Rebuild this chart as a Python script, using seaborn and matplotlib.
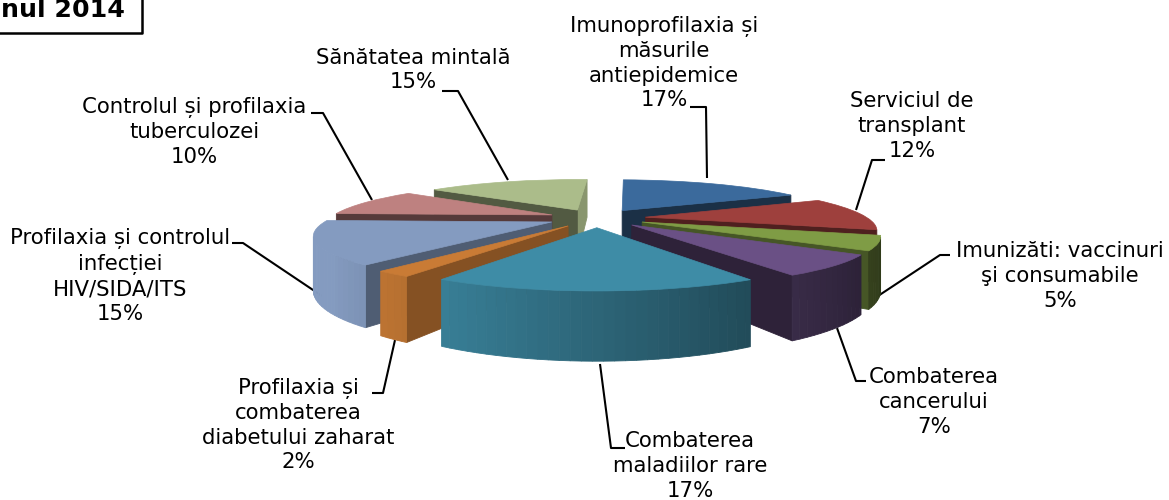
"""
Placinta 3D explodata: ponderea programelor nationale, anul 2014.
"""
import numpy as np
import matplotlib
matplotlib.use("Agg")
import matplotlib.pyplot as plt
from matplotlib.transforms import Transform
from matplotlib.colors import to_rgb
import seaborn as sns

sns.set_theme(style="white")
plt.rcParams['font.family'] = ['DejaVu Sans']

categorii = ["Imunoprofilaxia și\nmăsurile\nantiepidemice", "Serviciul de\ntransplant",
             "Imunizăti: vaccinuri\nşi consumabile", "Combaterea\ncancerului",
             "Combaterea\nmaladiilor rare", "Profilaxia și\ncombaterea\ndiabetului zaharat",
             "Profilaxia și controlul\ninfecției\nHIV/SIDA/ITS", "Controlul și profilaxia\ntuberculozei",
             "Sănătatea mintală"]
valori = [17, 12, 5, 7, 17, 2, 15, 10, 15]
titlu = "nul 2014"

culori = sns.color_palette(["#3B6A9C", "#9E403D", "#7F9C45", "#6A5085", "#3E8CA6",
                            "#C97B35", "#849BC0", "#BE8180", "#ABBC8A"])
umbra_taiere = [0.45, 0.5, 0.55, 0.43, 0.5, 0.66, 0.6, 0.45, 0.48]

# pozitia etichetelor (centru) si liniile de legatura, in pixeli
poz_text = [(664, 63), (912, 126), (1060, 276), (934, 402), (690, 466),
            (298, 425), (120, 276), (194, 132), (413, 70)]
legaturi = [[(707, 178), (706, 107), (690, 107)],
            [(856, 210), (872, 160), (885, 160)],
            [(878, 296), (940, 255), (950, 255)],
            [(837, 328), (856, 381), (866, 381)],
            [(600, 364), (611, 448), (625, 448)],
            [(395, 340), (383, 393), (372, 393)],
            [(322, 296), (243, 243), (232, 243)],
            [(372, 200), (323, 113), (311, 113)],
            [(508, 180), (458, 91), (442, 91)]]

CX, CY, A, B, K, H = 597, 218, 222, 41.7, 0.248, 49
EXPLODE = 0.22


def proiectie(x, y, z=0.0):
    """Coordonate plate ale placintei -> pixeli, cu perspectiva."""
    w = 1 + K * y
    return CX + A * x / w, CY - B * y / w + H * z / w


class Perspectiva(Transform):
    input_dims = output_dims = 2
    is_affine = False

    def transform_non_affine(self, values):
        values = np.asarray(values)
        px, py = proiectie(values[:, 0], values[:, 1])
        return np.column_stack([px, py])


def fata(ax, pts, culoare, zo):
    """Deseneaza o fata doar daca e orientata spre privitor."""
    xs, ys = zip(*pts)
    arie = 0.5 * np.sum(np.array(xs) * np.roll(ys, -1) - np.roll(xs, -1) * np.array(ys))
    if arie < 0:
        return
    ax.fill(xs, ys, color=culoare, lw=0.6, zorder=zo, clip_on=False)


def inchis(c, f):
    return tuple(np.clip(np.array(to_rgb(c)) * f, 0, 1))


fig, ax = plt.subplots(figsize=(11.69, 5), dpi=100)
fig.subplots_adjust(0, 0, 1, 1)

wedges, _ = ax.pie(valori, explode=[EXPLODE] * len(valori), startangle=88, counterclock=False,
                   colors=culori, radius=1, wedgeprops=dict(lw=0.5))
ax.set_aspect("auto")
ax.set_xlim(0, 1169)
ax.set_ylim(500, 0)
ax.axis("off")

# ordinea pictorului: feliile din spate primele
bisectoare = [np.sin(np.radians((w.theta1 + w.theta2) / 2)) for w in wedges]
ordine = np.argsort(bisectoare)[::-1]

for rang, i in enumerate(ordine):
    w = wedges[i]
    c = culori[i]
    zo = 3 + rang * 2
    (cx, cy), t1, t2 = w.center, w.theta1, w.theta2
    r = w.r
    # fetele de taiere
    for t, primul in ((t1, True), (t2, False)):
        rx, ry = cx + r * np.cos(np.radians(t)), cy + r * np.sin(np.radians(t))
        a, b = ((cx, cy), (rx, ry)) if primul else ((rx, ry), (cx, cy))
        pts = [proiectie(a[0], a[1], 0), proiectie(b[0], b[1], 0),
               proiectie(b[0], b[1], 1), proiectie(a[0], a[1], 1)]
        ny = abs(np.cos(np.radians(t)))
        fata(ax, pts, inchis(c, 0.8 if ny < 0.15 else umbra_taiere[i]), zo)
    # peretele exterior, fasii colorate dupa orientare
    unghiuri = np.arange(t1, t2 + 2.0, 2.0)
    unghiuri[-1] = t2
    for u0, u1 in zip(unghiuri[:-1], unghiuri[1:]):
        x0, y0 = cx + r * np.cos(np.radians(u0)), cy + r * np.sin(np.radians(u0))
        x1, y1 = cx + r * np.cos(np.radians(u1)), cy + r * np.sin(np.radians(u1))
        nx = np.cos(np.radians((u0 + u1) / 2))
        f = min(0.72 - 0.36 * nx, 1.0)
        pts = [proiectie(x0, y0, 0), proiectie(x1, y1, 0), proiectie(x1, y1, 1), proiectie(x0, y0, 1)]
        fata(ax, pts, inchis(c, f), zo)
    w.set_transform(Perspectiva() + ax.transData)
    w.set_zorder(zo + 1)
    w.set_edgecolor(c)
    w.set_clip_on(False)

for eticheta, v, (tx, ty), leg in zip(categorii, valori, poz_text, legaturi):
    ax.text(tx, ty, f"{eticheta}\n{v}%", ha="center", va="center", fontsize=15.3,
            linespacing=1.29, color="black", zorder=40)
    xs, ys = zip(*leg)
    ax.plot(xs, ys, color="black", lw=1.5, zorder=2, solid_capstyle="butt")

# caseta titlului, taiata de marginea imaginii
ax.plot([-5, 142, 142, -5], [33, 33, -5, -5], color="black", lw=1.8, zorder=40)
ax.text(1, 10, titlu, ha="left", va="center", fontsize=18.2, fontweight="bold", color="black", zorder=41)

fig.savefig("out.png", dpi=100)
plt.close(fig)
